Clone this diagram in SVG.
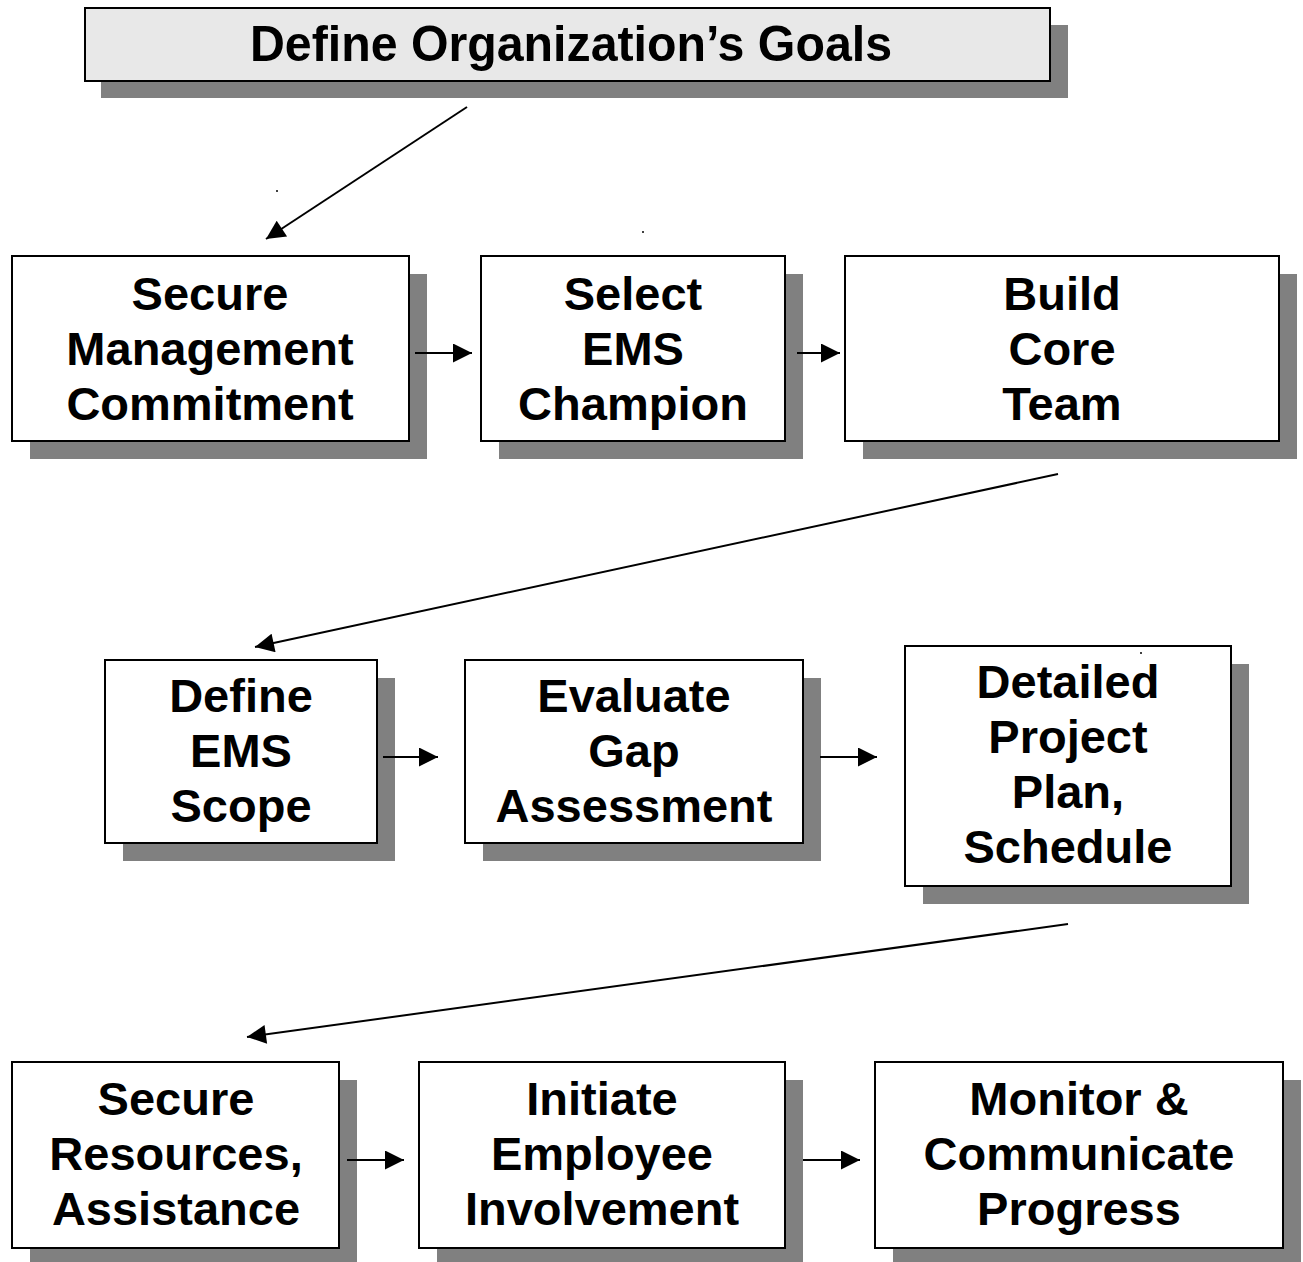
<svg xmlns="http://www.w3.org/2000/svg" width="1303" height="1262" viewBox="0 0 1303 1262">
<style>
.sh{fill:#808080}
.bx{fill:#fff;stroke:#000;stroke-width:2}
.tb{fill:#e8e8e8;stroke:#000;stroke-width:2}
text{font-family:"Liberation Sans",Arial,sans-serif;font-weight:bold;font-size:47px;fill:#000;text-anchor:middle}
.ttl{font-size:50px}
.cn line{stroke:#000;stroke-width:2;marker-end:url(#ah)}
</style>
<defs>
<marker id="ah" viewBox="0 0 10 10" refX="10" refY="5" markerUnits="userSpaceOnUse" markerWidth="22" markerHeight="19" orient="auto">
<path d="M0,0 L10,5 L0,10 Z" fill="#000"/>
</marker>
</defs>
<rect width="1303" height="1262" fill="#fff"/>
<g id="n0">
<rect class="sh" x="101" y="25" width="967" height="73"/>
<rect class="tb" x="85" y="8" width="965" height="73"/>
<text class="ttl" x="571" y="61" textLength="642" lengthAdjust="spacingAndGlyphs">Define Organization’s Goals</text>
</g>
<g id="n1">
<rect class="sh" x="30" y="274" width="397" height="185"/>
<rect class="bx" x="12" y="256" width="397" height="185"/>
<text x="210" y="310">Secure</text><text x="210" y="365">Management</text><text x="210" y="420">Commitment</text>
</g>
<g id="n2">
<rect class="sh" x="499" y="274" width="304" height="185"/>
<rect class="bx" x="481" y="256" width="304" height="185"/>
<text x="633" y="310">Select</text><text x="633" y="365">EMS</text><text x="633" y="420">Champion</text>
</g>
<g id="n3">
<rect class="sh" x="863" y="274" width="434" height="185"/>
<rect class="bx" x="845" y="256" width="434" height="185"/>
<text x="1062" y="310">Build</text><text x="1062" y="365">Core</text><text x="1062" y="420">Team</text>
</g>
<g id="n4">
<rect class="sh" x="123" y="678" width="272" height="183"/>
<rect class="bx" x="105" y="660" width="272" height="183"/>
<text x="241" y="712">Define</text><text x="241" y="767">EMS</text><text x="241" y="822">Scope</text>
</g>
<g id="n5">
<rect class="sh" x="483" y="678" width="338" height="183"/>
<rect class="bx" x="465" y="660" width="338" height="183"/>
<text x="634" y="712">Evaluate</text><text x="634" y="767">Gap</text><text x="634" y="822">Assessment</text>
</g>
<g id="n6">
<rect class="sh" x="923" y="664" width="326" height="240"/>
<rect class="bx" x="905" y="646" width="326" height="240"/>
<text x="1068" y="698">Detailed</text><text x="1068" y="753">Project</text><text x="1068" y="808">Plan,</text><text x="1068" y="863">Schedule</text>
<circle cx="1141" cy="653" r="1" fill="#000"/>
</g>
<g id="n7">
<rect class="sh" x="30" y="1080" width="327" height="186"/>
<rect class="bx" x="12" y="1062" width="327" height="186"/>
<text x="176" y="1115">Secure</text><text x="176" y="1170">Resources,</text><text x="176" y="1225">Assistance</text>
</g>
<g id="n8">
<rect class="sh" x="437" y="1080" width="366" height="186"/>
<rect class="bx" x="419" y="1062" width="366" height="186"/>
<text x="602" y="1115">Initiate</text><text x="602" y="1170">Employee</text><text x="602" y="1225">Involvement</text>
</g>
<g id="n9">
<rect class="sh" x="893" y="1080" width="408" height="186"/>
<rect class="bx" x="875" y="1062" width="408" height="186"/>
<text x="1079" y="1115">Monitor &amp;</text><text x="1079" y="1170">Communicate</text><text x="1079" y="1225">Progress</text>
</g>
<g id="connectors" class="cn">
<line x1="467" y1="107" x2="266" y2="239"/>
<line x1="415" y1="353" x2="472" y2="353"/>
<line x1="797" y1="353" x2="840" y2="353"/>
<line x1="1058" y1="474" x2="255" y2="647"/>
<line x1="383" y1="757" x2="438" y2="757"/>
<line x1="820" y1="757" x2="877" y2="757"/>
<line x1="1068" y1="924" x2="247" y2="1037"/>
<line x1="347" y1="1160" x2="404" y2="1160"/>
<line x1="803" y1="1160" x2="860" y2="1160"/>
</g>
<circle cx="277" cy="191" r="1" fill="#000"/>
<circle cx="643" cy="232" r="1" fill="#000"/>
</svg>
